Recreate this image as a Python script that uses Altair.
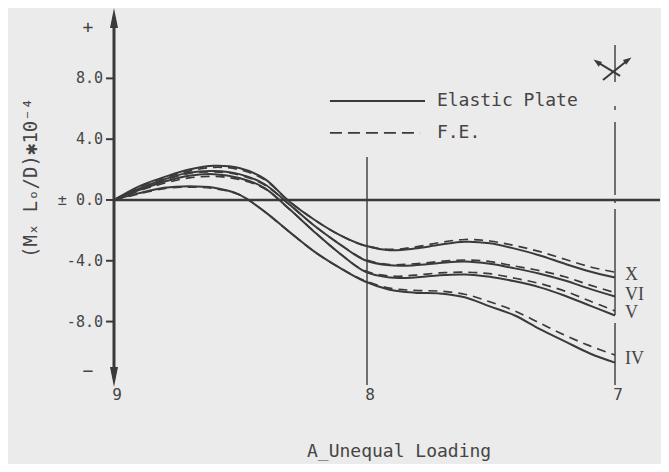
import altair as alt
import pandas as pd

# ---------------- data ----------------
position = [0.0, 0.1, 0.2, 0.3, 0.4, 0.5, 0.6, 0.7, 0.8, 0.9, 1.0,
            1.1, 1.2, 1.3, 1.4, 1.5, 1.6, 1.7, 1.8, 1.9, 2.0]

cases = ["X", "VI", "V", "IV"]

elastic_X = [0, 0.9, 1.5, 2.0, 2.25, 2.1, 1.4, -0.1, -1.3, -2.3, -3.0,
             -3.3, -3.2, -2.95, -2.75, -2.85, -3.2, -3.65, -4.2, -4.7, -5.1]
elastic_VI = [0, 0.75, 1.35, 1.8, 1.9, 1.7, 1.05, -0.3, -1.7, -2.9, -3.95,
              -4.3, -4.3, -4.15, -4.05, -4.2, -4.5, -4.85, -5.3, -5.85, -6.35]
elastic_V = [0, 0.65, 1.2, 1.6, 1.7, 1.45, 0.8, -0.6, -2.1, -3.5, -4.7,
             -5.1, -5.1, -4.95, -4.9, -5.05, -5.35, -5.75, -6.3, -6.95, -7.6]
elastic_IV = [0, 0.45, 0.8, 0.9, 0.8, 0.35, -0.75, -2.1, -3.4, -4.45, -5.35,
              -5.9, -6.1, -6.15, -6.4, -7.0, -7.6, -8.5, -9.3, -10.1, -10.7]

fe_X = [0, 0.85, 1.45, 1.9, 2.15, 2.0, 1.35, -0.1, -1.3, -2.3, -3.0,
        -3.25, -3.1, -2.8, -2.6, -2.7, -3.0, -3.4, -3.9, -4.4, -4.75]
fe_VI = [0, 0.7, 1.3, 1.75, 1.85, 1.65, 1.0, -0.3, -1.7, -2.9, -3.9,
         -4.25, -4.2, -4.05, -3.95, -4.05, -4.35, -4.65, -5.05, -5.6, -6.1]
fe_V = [0, 0.6, 1.1, 1.45, 1.55, 1.35, 0.75, -0.6, -2.1, -3.5, -4.65,
        -5.0, -4.95, -4.8, -4.75, -4.85, -5.15, -5.5, -6.0, -6.65, -7.3]
fe_IV = [0, 0.4, 0.75, 0.85, 0.75, 0.35, -0.75, -2.1, -3.4, -4.45, -5.3,
         -5.8, -5.95, -6.0, -6.2, -6.7, -7.3, -8.1, -8.9, -9.6, -10.2]

tick_values = [8, 4, 0, -4, -8]
tick_labels = ["8.0", "4.0", "± 0.0", "-4.0", "-8.0"]

node_x = [0.0, 1.01, 2.0]
node_labels = ["9", "8", "7"]

legend_labels = ["Elastic Plate", "F.E."]

y_title = "(Mₓ Lₒ/D)✱10⁻⁴"
x_title = "A_Unequal Loading"

# ---------------- layout constants ----------------
X_MAX = 2.1796
Y_MIN, Y_MAX = -13.16, 12.63
INK = "#3a3a3a"
TXT = "#454545"
MONO = "DejaVu Sans Mono"

xs = alt.Scale(domain=[0, X_MAX], nice=False, zero=False)
ys = alt.Scale(domain=[Y_MIN, Y_MAX], nice=False, zero=False)


def X(f="x"):
    return alt.X(f"{f}:Q", scale=xs, axis=None)


def Y(f="y"):
    return alt.Y(f"{f}:Q", scale=ys, axis=None)


def seg(rows):
    return pd.DataFrame(rows, columns=["x", "x2", "y", "y2"])


# curves
elastic = {"X": elastic_X, "VI": elastic_VI, "V": elastic_V, "IV": elastic_IV}
fe = {"X": fe_X, "VI": fe_VI, "V": fe_V, "IV": fe_IV}
rows = []
for c in cases:
    for p, a, b in zip(position, elastic[c], fe[c]):
        rows.append({"x": p, "case": c, "ep": a, "fe": b})
curves = pd.DataFrame(rows)

solid = alt.Chart(curves).mark_line(
    color=INK, strokeWidth=2, interpolate="catmull-rom"
).encode(x=X(), y=Y("ep"), detail="case:N")

dashed = alt.Chart(curves).mark_line(
    color=INK, strokeWidth=1.7, strokeDash=[9, 6], interpolate="catmull-rom"
).encode(x=X(), y=Y("fe"), detail="case:N")

# roman labels at the end of each curve
ends = pd.DataFrame({
    "case": cases,
    "x": [position[-1]] * 4,
    "y": [(elastic[c][-1] + fe[c][-1]) / 2 for c in cases],
})
roman = alt.Chart(ends).mark_text(
    align="left", baseline="middle", dx=10, font="Liberation Serif",
    fontSize=18, color=TXT
).encode(x=X(), y=Y(), text="case:N")

# axis lines and reference lines
zero_line = alt.Chart(seg([[0, X_MAX, 0, 0]])).mark_rule(
    color=INK, strokeWidth=2.5
).encode(x=X(), x2="x2", y=Y(), y2="y2")

y_axis = alt.Chart(seg([[0, 0, -11.6, 12.0]])).mark_rule(
    color=INK, strokeWidth=3
).encode(x=X(), x2="x2", y=Y(), y2="y2")

arrows = pd.DataFrame({"x": [0, 0], "y": [11.97, -11.64],
                       "dir": ["up", "down"]})
arrow_up = alt.Chart(arrows[arrows.dir == "up"]).mark_point(
    shape="M0,-1L0.4,1L-0.4,1Z", size=400, filled=True, opacity=1, color=INK
).encode(x=X(), y=Y())
arrow_dn = alt.Chart(arrows[arrows.dir == "down"]).mark_point(
    shape="M0,1L0.4,-1L-0.4,-1Z", size=400, filled=True, opacity=1, color=INK
).encode(x=X(), y=Y())

node8 = alt.Chart(seg([[node_x[1], node_x[1], 2.83, -12.17]])).mark_rule(
    color=INK, strokeWidth=1.4
).encode(x=X(), x2="x2", y=Y(), y2="y2")

# broken (dash-dot) symmetry line through node 7
n7 = node_x[2]
node7 = alt.Chart(seg([[n7, n7, 10.2, 7.76], [n7, n7, 6.18, 5.92],
                       [n7, n7, 5.13, 0.33], [n7, n7, 0.07, -0.2],
                       [n7, n7, -0.59, -7.57], [n7, n7, -8.09, -12.17]])).mark_rule(
    color=INK, strokeWidth=1.4
).encode(x=X(), x2="x2", y=Y(), y2="y2")

# y ticks and labels
ticks_df = pd.DataFrame({"y": tick_values, "label": tick_labels,
                         "x": [-0.032] * 5, "x2": [0] * 5})
ticks = alt.Chart(ticks_df).mark_rule(color=INK, strokeWidth=2).encode(
    x=X(), x2="x2", y=Y())
tick_text = alt.Chart(ticks_df).mark_text(
    align="right", baseline="middle", dx=-3, font=MONO, fontSize=15, color=TXT
).encode(x=X(), y=Y(), text="label:N")

signs = pd.DataFrame({"x": [-0.104, -0.104], "y": [11.3, -11.3],
                      "t": ["+", "−"]})
sign_text = alt.Chart(signs).mark_text(
    align="center", baseline="middle", font=MONO, fontSize=18, color=TXT
).encode(x=X(), y=Y(), text="t:N")

ytitle = alt.Chart(pd.DataFrame({"x": [-0.33], "y": [1.45], "t": [y_title]})).mark_text(
    angle=270, align="center", baseline="middle", font=MONO, fontSize=19,
    color=TXT
).encode(x=X(), y=Y(), text="t:N")

# bottom node labels and title
nodes_df = pd.DataFrame({"x": node_x, "t": node_labels, "y": [-12.85] * 3})
node_text = alt.Chart(nodes_df).mark_text(
    align="center", baseline="middle", dx=3, font=MONO, fontSize=16, color=TXT
).encode(x=X(), y=Y(), text="t:N")

xtitle = alt.Chart(pd.DataFrame({"x": [1.138], "y": [-16.6], "t": [x_title]})).mark_text(
    align="center", baseline="middle", font=MONO, fontSize=18, color=TXT
).encode(x=X(), y=Y(), text="t:N")

# legend
leg_solid = alt.Chart(seg([[0.862, 1.2415, 6.51, 6.51]])).mark_rule(
    color=INK, strokeWidth=1.8).encode(x=X(), x2="x2", y=Y(), y2="y2")
leg_dash = alt.Chart(seg([[0.862, 1.222, 4.41, 4.41]])).mark_rule(
    color=INK, strokeWidth=1.8, strokeDash=[12, 6]).encode(
    x=X(), x2="x2", y=Y(), y2="y2")
leg_text = alt.Chart(pd.DataFrame({"x": [1.289, 1.289], "y": [6.51, 4.41],
                                   "t": legend_labels})).mark_text(
    align="left", baseline="middle", font=MONO, fontSize=18, color=TXT
).encode(x=X(), y=Y(), text="t:N")

# symmetry symbol on top of line 7
sym = alt.Chart(seg([[1.928, 2.02, 9.08, 8.16],
                     [2.052, 1.952, 9.21, 7.89]])).mark_rule(
    color=INK, strokeWidth=2).encode(x=X(), x2="x2", y=Y(), y2="y2")
sym_heads = pd.DataFrame({"x": [1.928, 2.052], "y": [9.08, 9.21],
                          "a": [305, 55]})
sym_head = alt.Chart(sym_heads).mark_point(
    shape="M0,-1L0.7,1L-0.7,1Z", size=70, filled=True, opacity=1, color=INK
).encode(x=X(), y=Y(), angle=alt.Angle("a:Q", scale=None))

chart = alt.layer(
    zero_line, node8, node7, ticks, tick_text, sign_text, ytitle,
    node_text, xtitle, leg_solid, leg_dash, leg_text, sym, sym_head,
    solid, dashed, roman, y_axis, arrow_up, arrow_dn
).properties(
    width=546, height=392,
    padding={"left": 106, "top": 0, "right": 1, "bottom": 64},
    autosize="none",
    background="#ebebeb",
).configure_view(stroke=None)

chart.save("out.html", embed_options={"renderer": "svg", "actions": False})
